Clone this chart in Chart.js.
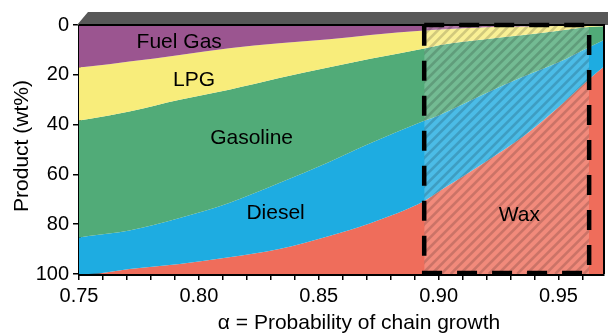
<!DOCTYPE html>
<html>
<head>
<meta charset="utf-8">
<script src="https://cdn.jsdelivr.net/npm/chart.js@4/dist/chart.umd.min.js"></script>
<style>
  html, body { margin: 0; padding: 0; background: #fff; }
</style>
</head>
<body>
<canvas id="c" width="608" height="336"></canvas>
<script>
// chain growth probability (x) and product split in wt% per fraction
const alpha    = [0.75, 0.754, 0.771, 0.792, 0.8126, 0.8335, 0.8544, 0.8715, 0.894, 0.9007, 0.9195, 0.9354, 0.95, 0.9625, 0.969];
const fuelGas  = [17,   16.7,  14.7,  12,    9.3,    7.3,    5.7,    4,      2.2,   1.8,    0.9,    0.6,    0.4,  0.3,    0.2];
const lpg      = [21.4, 21.1,  20,    18,    16.7,   14,     11.3,   9.6,    7.2,   6.2,    4.8,    3.4,    1.9,  0.5,    0.3];
const gasoline = [46.9, 46.9,  47.8,  47.5,  45.5,   42.2,   38,     33.9,   29.1,  28,     21.8,   16.7,   12.7, 8.2,    5.5];
const diesel   = [14.7, 15.3,  15.5,  18.5,  21.8,   26.5,   29.7,   32.1,   32.2,  30.5,   27.5,   24,     18,   13,     10.7];
const wax      = [0,    0,     2,     4,     6.7,    10,     15.3,   20.4,   29.3,  33.5,   45,     55.3,   67,   78,     83.3];

const products = ['Fuel Gas', 'LPG', 'Gasoline', 'Diesel', 'Wax'];
const xTickLabels = ['0.75', '0.80', '0.85', '0.90', '0.95'];
const yTickLabels = [0, 20, 40, 60, 80, 100];

// window of interest (hatched, dashed box)
const waxWindow = [0.894, 0.9628];

// where the fraction names sit, in data units
const nameSpots = [
  ['Fuel Gas', 0.7918, 6.8],
  ['LPG', 0.798, 22],
  ['Gasoline', 0.822, 45.4],
  ['Diesel', 0.832, 75.5],
  ['Wax', 0.9337, 76.3],
];

const colors = ['#9b5590', '#f8ed7b', '#51ab78', '#1eace1', '#ef6d5b'];
const FONT = '"Liberation Sans", Arial, Helvetica, sans-serif';

const series = [fuelGas, lpg, gasoline, diesel, wax];
const datasets = series.map((vals, i) => ({
  label: products[i],
  data: alpha.map((a, j) => ({ x: a, y: vals[j] })),
  backgroundColor: colors[i],
  borderWidth: 0,
  pointRadius: 0,
  fill: i === 0 ? 'origin' : '-1',
  cubicInterpolationMode: 'monotone',
}));

const decor = {
  id: 'decor',
  afterDatasetsDraw(chart) {
    const { ctx, chartArea: a, scales: { x, y } } = chart;
    const x0 = x.getPixelForValue(waxWindow[0]);
    const x1 = x.getPixelForValue(waxWindow[1]);
    const yTop = y.getPixelForValue(0);
    const yBot = y.getPixelForValue(100);

    // hatched overlay
    ctx.save();
    ctx.beginPath();
    ctx.rect(x0, yTop, x1 - x0, yBot - yTop);
    ctx.clip();
    ctx.fillStyle = 'rgba(255,255,255,0.2)';
    ctx.fillRect(x0, yTop, x1 - x0, yBot - yTop);
    ctx.strokeStyle = 'rgba(0,0,0,0.16)';
    ctx.lineWidth = 2.6;
    const h = yBot - yTop;
    for (let sx = x0 - h; sx < x1 + 10; sx += 9.5) {
      ctx.beginPath();
      ctx.moveTo(sx, yBot);
      ctx.lineTo(sx + h, yTop);
      ctx.stroke();
    }
    ctx.restore();

    // fraction names
    ctx.save();
    ctx.fillStyle = '#000';
    ctx.font = '21px ' + FONT;
    ctx.textAlign = 'center';
    ctx.textBaseline = 'middle';
    nameSpots.forEach(([t, vx, vy]) => ctx.fillText(t, x.getPixelForValue(vx), y.getPixelForValue(vy)));
    ctx.restore();

    // 3d-ish top band
    ctx.save();
    ctx.fillStyle = '#585858';
    ctx.beginPath();
    ctx.moveTo(a.left - 2, a.top);
    ctx.lineTo(a.left + 9, a.top - 13);
    ctx.lineTo(chart.width, a.top - 13);
    ctx.lineTo(chart.width, a.top);
    ctx.closePath();
    ctx.fill();
    ctx.strokeStyle = '#000';
    ctx.lineWidth = 2;
    ctx.beginPath();
    ctx.moveTo(a.left, a.top);
    ctx.lineTo(a.right, a.top);
    ctx.lineTo(a.right, a.bottom);
    ctx.stroke();

    // dashed box
    ctx.lineWidth = 4.5;
    ctx.setLineDash([20, 15]);
    ctx.strokeRect(x0, yTop, x1 - x0, yBot - yTop - 1);
    ctx.restore();

    // axis titles
    ctx.save();
    ctx.fillStyle = '#000';
    ctx.font = '21px ' + FONT;
    ctx.textAlign = 'center';
    ctx.textBaseline = 'middle';
    ctx.fillText('\u03b1 = Probability of chain growth', 359, 323);
    ctx.translate(22, 146);
    ctx.rotate(-Math.PI / 2);
    ctx.fillText('Product (wt%)', 0, 0);
    ctx.restore();
  }
};

new Chart(document.getElementById('c'), {
  type: 'line',
  data: { datasets },
  options: {
    responsive: false,
    devicePixelRatio: 1,
    animation: false,
    layout: { padding: { top: 25, right: 4, left: 0, bottom: 0 } },
    plugins: { legend: { display: false }, tooltip: { enabled: false } },
    elements: { line: { borderWidth: 0 } },
    scales: {
      x: {
        type: 'linear',
        min: 0.75,
        max: 0.969,
        afterFit: s => { s.height = 62; },
        border: { color: '#000', width: 3 },
        grid: { drawOnChartArea: false, tickLength: 6, color: '#000', lineWidth: 1.5 },
        ticks: {
          stepSize: 0.01,
          includeBounds: false,
          autoSkip: false,
          maxTicksLimit: 100,
          maxRotation: 0,
          padding: 4,
          color: '#000',
          font: { family: FONT, size: 20 },
          callback: v => {
            const s = Number(v).toFixed(2);
            return xTickLabels.includes(s) ? s : '';
          }
        }
      },
      y: {
        stacked: true,
        reverse: true,
        min: 0,
        max: 100,
        afterFit: s => { s.width = 79; },
        afterBuildTicks: s => { s.ticks = yTickLabels.map(v => ({ value: v })); },
        border: { color: '#000', width: 3 },
        grid: { drawOnChartArea: false, tickLength: 6, color: '#000', lineWidth: 1.5 },
        ticks: {
          padding: 4,
          color: '#000',
          font: { family: FONT, size: 20 }
        }
      }
    }
  },
  plugins: [decor]
});
</script>
</body>
</html>
